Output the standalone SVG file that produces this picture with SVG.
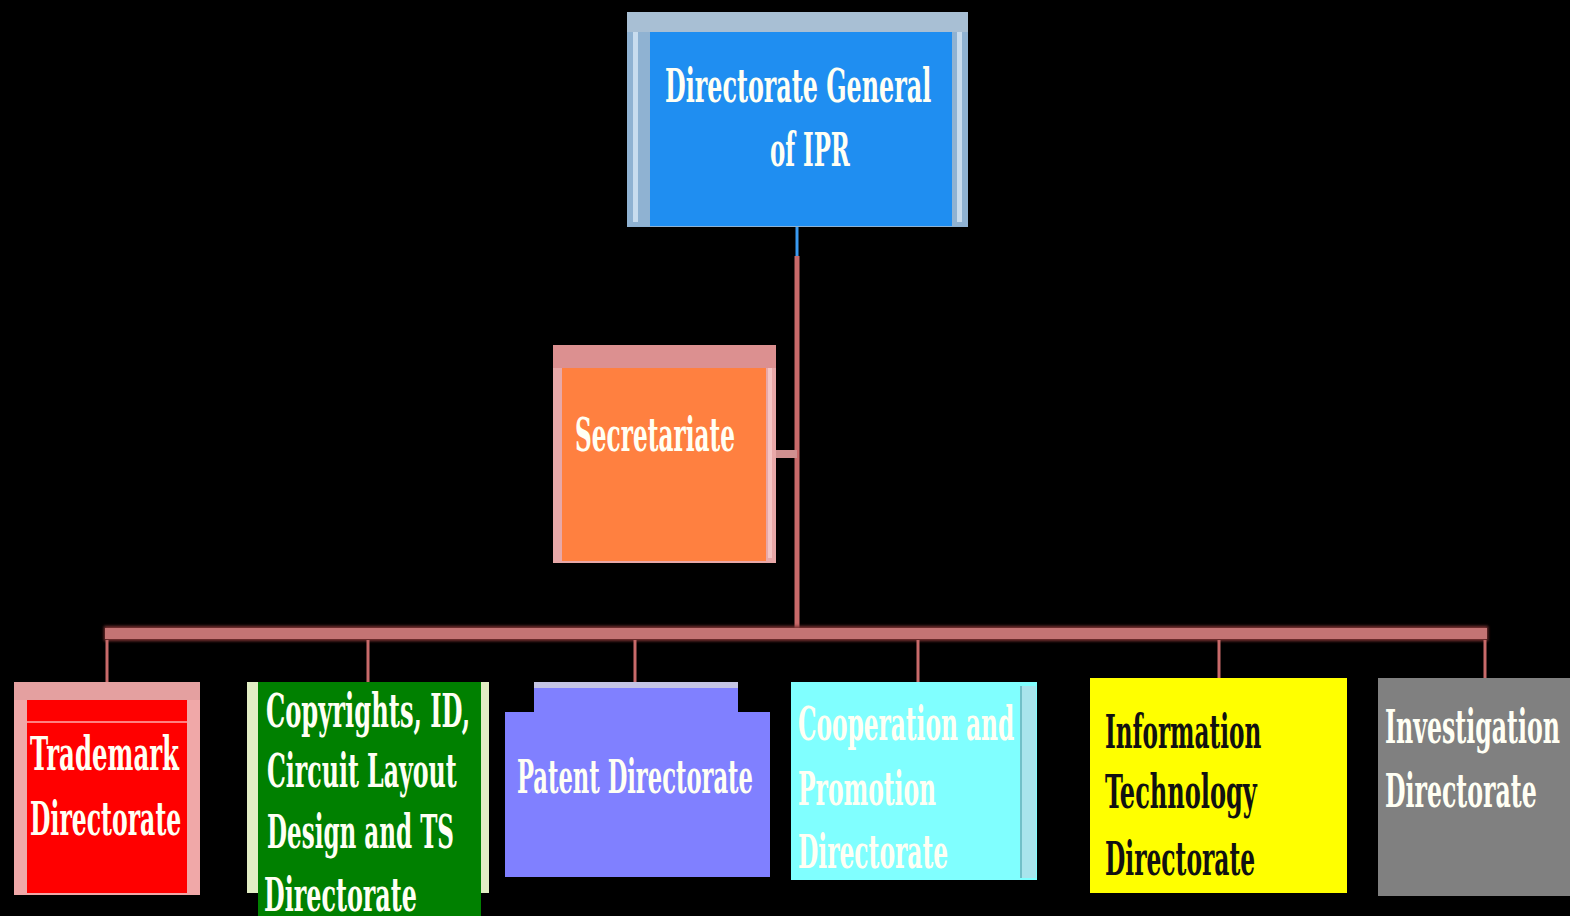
<svg xmlns="http://www.w3.org/2000/svg" width="1570" height="916" viewBox="0 0 1570 916">
<defs>
<style>
.t{font-family:"DejaVu Serif Condensed","DejaVu Serif","Liberation Serif",serif;font-weight:bold;font-stretch:condensed;font-size:46px;fill:#fffff4}
.dk{fill:#111}
.ln{stroke:#c86a6a;fill:none}
</style>
<filter id="glow" x="-5%" y="-100%" width="110%" height="300%"><feGaussianBlur stdDeviation="1.5"/></filter>
</defs>
<rect width="1570" height="916" fill="#000"/>
<g id="connectors">
<line x1="797" y1="227" x2="797" y2="256" stroke="#3a9af0" stroke-width="3"/>
<line class="ln" x1="797" y1="256" x2="797" y2="632" stroke-width="5"/>
<rect x="775" y="450" width="22" height="8" fill="#d09090"/>
<rect x="104" y="626" width="1384" height="15" fill="#7a3030" filter="url(#glow)"/>
<rect x="105" y="628" width="1382" height="11" fill="#c47474"/>
<g class="ln" stroke-width="3" stroke="#d06464">
<line x1="107" y1="640" x2="107" y2="682"/>
<line x1="368" y1="640" x2="368" y2="682"/>
<line x1="635" y1="640" x2="635" y2="682"/>
<line x1="918" y1="640" x2="918" y2="682"/>
<line x1="1219" y1="640" x2="1219" y2="678"/>
<line x1="1485" y1="640" x2="1485" y2="678"/>
</g>
</g>
<g id="dg">
<rect x="627" y="12" width="341" height="215" fill="#8fb2d2"/>
<rect x="627" y="12" width="341" height="20" fill="#a8bfd4"/>
<rect x="633" y="32" width="5" height="190" fill="#c8dcee"/>
<rect x="957" y="32" width="5" height="190" fill="#c8dcee"/>
<rect x="650" y="32" width="302" height="194" fill="#1f8ef1"/>
<text class="t" transform="translate(665 102) scale(0.55 1)" textLength="484" lengthAdjust="spacingAndGlyphs">Directorate General</text>
<text class="t" transform="translate(770 166) scale(0.55 1)" textLength="145" lengthAdjust="spacingAndGlyphs">of IPR</text>
</g>
<g id="secretariate">
<rect x="553" y="345" width="223" height="218" fill="#e8a8a8"/>
<rect x="553" y="345" width="223" height="23" fill="#dc9090"/>
<rect x="562" y="368" width="204" height="193" fill="#ff8040"/>
<rect x="768" y="368" width="4" height="190" fill="#f4c4c4"/>
<text class="t" transform="translate(575 451) scale(0.55 1)" textLength="291" lengthAdjust="spacingAndGlyphs">Secretariate</text>
</g>
<g id="trademark">
<rect x="14" y="682" width="186" height="213" fill="#f0a8a8"/>
<rect x="14" y="682" width="186" height="18" fill="#e4a0a0"/>
<rect x="27" y="700" width="160" height="193" fill="#ff0000"/>
<rect x="27" y="721" width="160" height="2" fill="#ff8080"/>
<text class="t" transform="translate(30 770) scale(0.55 1)" textLength="271" lengthAdjust="spacingAndGlyphs">Trademark</text>
<text class="t" transform="translate(30 835) scale(0.55 1)" textLength="275" lengthAdjust="spacingAndGlyphs">Directorate</text>
</g>
<g id="copyrights">
<rect x="247" y="682" width="242" height="211" fill="#e2eec4"/>
<rect x="258" y="682" width="223" height="234" fill="#008000"/>
<text class="t" transform="translate(266 727) scale(0.55 1)" textLength="371" lengthAdjust="spacingAndGlyphs">Copyrights, ID,</text>
<text class="t" transform="translate(267 787) scale(0.55 1)" textLength="345" lengthAdjust="spacingAndGlyphs">Circuit Layout</text>
<text class="t" transform="translate(267 848) scale(0.55 1)" textLength="340" lengthAdjust="spacingAndGlyphs">Design and TS</text>
<text class="t" transform="translate(264 911) scale(0.55 1)" textLength="278" lengthAdjust="spacingAndGlyphs">Directorate</text>
</g>
<g id="patent">
<rect x="534" y="682" width="204" height="32" fill="#8080ff"/>
<rect x="534" y="682" width="204" height="6" fill="#c4c4e4"/>
<rect x="505" y="712" width="265" height="165" fill="#8080ff"/>
<text class="t" transform="translate(517 793) scale(0.55 1)" textLength="429" lengthAdjust="spacingAndGlyphs">Patent Directorate</text>
</g>
<g id="cooperation">
<rect x="791" y="682" width="246" height="198" fill="#80ffff"/>
<rect x="1020" y="686" width="16" height="192" fill="#a8e4ec"/>
<rect x="1020" y="686" width="2" height="192" fill="#70c0c8"/>
<text class="t" transform="translate(798 740) scale(0.55 1)" textLength="393" lengthAdjust="spacingAndGlyphs">Cooperation and</text>
<text class="t" transform="translate(798 805) scale(0.55 1)" textLength="251" lengthAdjust="spacingAndGlyphs">Promotion</text>
<text class="t" transform="translate(798 868) scale(0.55 1)" textLength="273" lengthAdjust="spacingAndGlyphs">Directorate</text>
</g>
<g id="it">
<rect x="1090" y="678" width="257" height="215" fill="#ffff00"/>
<text class="t dk" transform="translate(1105 748) scale(0.55 1)" textLength="284" lengthAdjust="spacingAndGlyphs">Information</text>
<text class="t dk" transform="translate(1105 808) scale(0.55 1)" textLength="276" lengthAdjust="spacingAndGlyphs">Technology</text>
<text class="t dk" transform="translate(1105 875) scale(0.55 1)" textLength="273" lengthAdjust="spacingAndGlyphs">Directorate</text>
</g>
<g id="investigation">
<rect x="1378" y="678" width="192" height="218" fill="#808080"/>
<text class="t" transform="translate(1385 743) scale(0.55 1)" textLength="318" lengthAdjust="spacingAndGlyphs">Investigation</text>
<text class="t" transform="translate(1385 807) scale(0.55 1)" textLength="276" lengthAdjust="spacingAndGlyphs">Directorate</text>
</g>
</svg>
